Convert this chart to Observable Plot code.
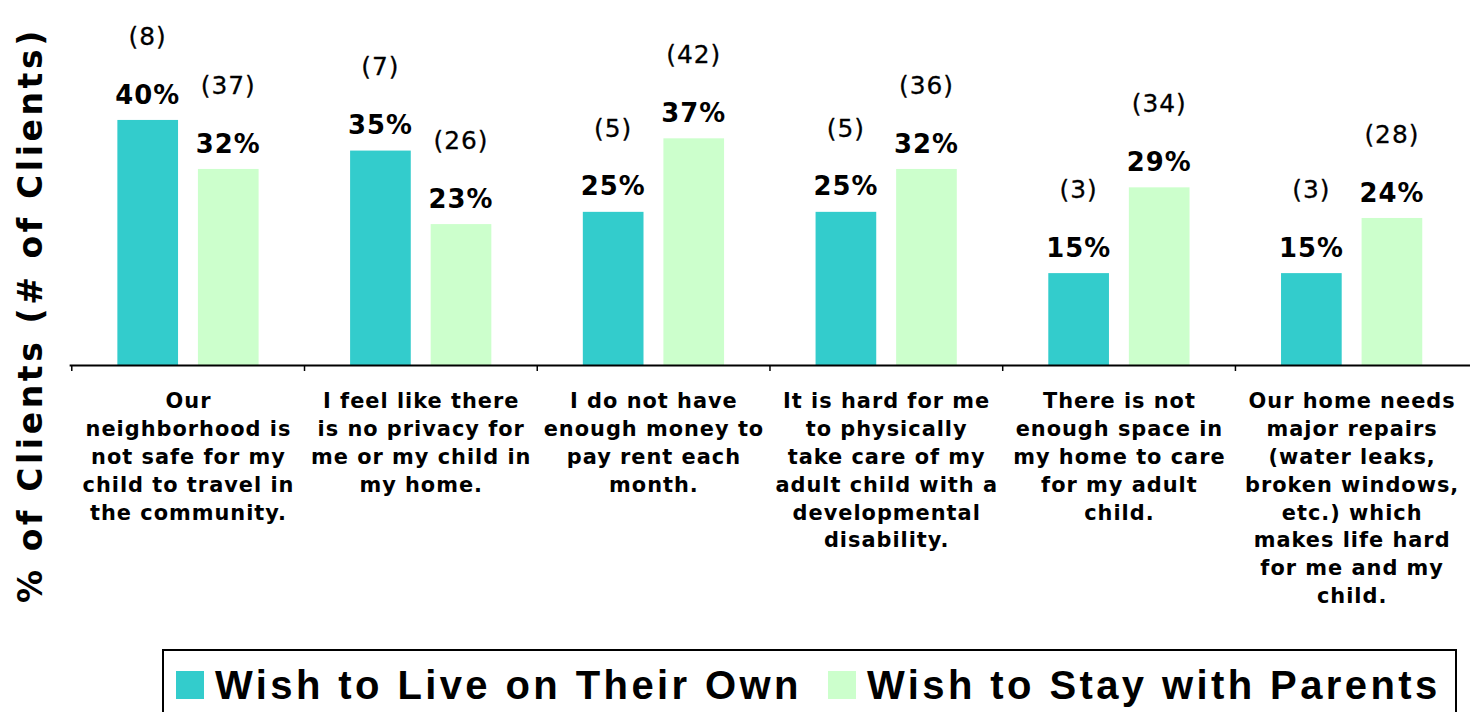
<!DOCTYPE html>
<html>
<head>
<meta charset="utf-8">
<script src="https://cdn.jsdelivr.net/npm/d3@7"></script>
<script src="https://cdn.jsdelivr.net/npm/@observablehq/plot@0.6"></script>
<style>
  html, body { margin: 0; padding: 0; background: #fff; overflow: hidden; width: 1470px; height: 712px; }
  #wrap { position: relative; width: 1470px; height: 712px; overflow: hidden; }
  #chart { position: absolute; left: 0; top: 0; }
  #chart svg text { letter-spacing: 1px; }
  #ytitle {
    position: absolute; left: 30px; top: 315px;
    transform: translate(-50%, -50%) rotate(-90deg);
    font-family: "DejaVu Sans", sans-serif; font-weight: bold; font-size: 33px;
    letter-spacing: 3.6px; line-height: 33px; white-space: nowrap; color: #000;
  }
  #legendBox {
    position: absolute; left: 162px; top: 649px; width: 1295px; height: 80px;
    border: 2px solid #000; box-sizing: border-box;
  }
  .sw { position: absolute; width: 28px; height: 28px; top: 671px; }
  .lt {
    position: absolute; top: 665px; font-family: "Liberation Sans", Arial, sans-serif;
    font-weight: bold; font-size: 40px; line-height: 40px; letter-spacing: 3.4px;
    white-space: nowrap; color: #000;
  }
</style>
</head>
<body>
<div id="wrap">
  <div id="chart"></div>
  <div id="ytitle"></div>
  <div id="legendBox"></div>
  <div id="legend"></div>
</div>
<script>
const categories = [
  "Our\nneighborhood is\nnot safe for my\nchild to travel in\nthe community.",
  "I feel like there\nis no privacy for\nme or my child in\nmy home.",
  "I do not have\nenough money to\npay rent each\nmonth.",
  "It is hard for me\nto physically\ntake care of my\nadult child with a\ndevelopmental\ndisability.",
  "There is not\nenough space in\nmy home to care\nfor my adult\nchild.",
  "Our home needs\nmajor repairs\n(water leaks,\nbroken windows,\netc.) which\nmakes life hard\nfor me and my\nchild."
];
const seriesNames = ["Wish to Live on Their Own", "Wish to Stay with Parents"];
const seriesColors = ["#33CCCC", "#CCFFCC"];
const ownPct = [40, 35, 25, 25, 15, 15];
const ownCount = [8, 7, 5, 5, 3, 3];
const parentsPct = [32, 23, 37, 32, 29, 24];
const parentsCount = [37, 26, 42, 36, 34, 28];
const yTitle = "% of Clients (# of Clients)";

const own = categories.map((c, i) => ({category: c, pct: ownPct[i], n: ownCount[i]}));
const parents = categories.map((c, i) => ({category: c, pct: parentsPct[i], n: parentsCount[i]}));

const W = 1478, H = 640, ML = 70, MR = 0;
const band = (W - ML - MR) / categories.length;

function labels(data, dx) {
  return [
    Plot.text(data, {x: "category", y: "pct", text: d => d.pct + "%", dx, dy: -17,
      lineAnchor: "bottom", fontSize: 26, fontWeight: "bold", fill: "#000"}),
    Plot.text(data, {x: "category", y: "pct", text: d => `(${d.n})`, dx, dy: -76,
      lineAnchor: "bottom", fontSize: 25, fill: "#000", stroke: "#000", strokeWidth: 0.3})
  ];
}

const chart = Plot.plot({
  width: W, height: H,
  marginTop: 59, marginBottom: 273, marginLeft: ML, marginRight: MR,
  style: {fontFamily: "DejaVu Sans, sans-serif", background: "transparent", color: "#000", overflow: "visible"},
  x: {domain: categories, padding: 0},
  y: {domain: [0, 50], axis: null},
  marks: [
    Plot.barY(own, {x: "category", y: "pct", fill: seriesColors[0], insetLeft: 46, insetRight: 127}),
    Plot.barY(parents, {x: "category", y: "pct", fill: seriesColors[1], insetLeft: 127, insetRight: 46}),
    Plot.ruleY([0], {stroke: "#000", strokeWidth: 2}),
    Plot.axisX({tickSize: 0, tickPadding: 23, fontSize: 21, fontWeight: "bold", lineHeight: 28 / 21, label: null}),
    Plot.axisX({tickSize: 6, tickFormat: () => "", dx: -band / 2, strokeWidth: 1.5, label: null}),
    ...labels(own, -41),
    ...labels(parents, 40)
  ]
});
document.getElementById("chart").appendChild(chart);
document.getElementById("ytitle").textContent = yTitle;

const legend = document.getElementById("legend");
const swX = [176, 828], txX = [215, 867];
seriesNames.forEach((name, i) => {
  const sw = document.createElement("div");
  sw.className = "sw"; sw.style.left = swX[i] + "px"; sw.style.background = seriesColors[i];
  legend.appendChild(sw);
  const t = document.createElement("div");
  t.className = "lt"; t.style.left = txX[i] + "px"; t.textContent = name;
  legend.appendChild(t);
});
</script>
</body>
</html>
